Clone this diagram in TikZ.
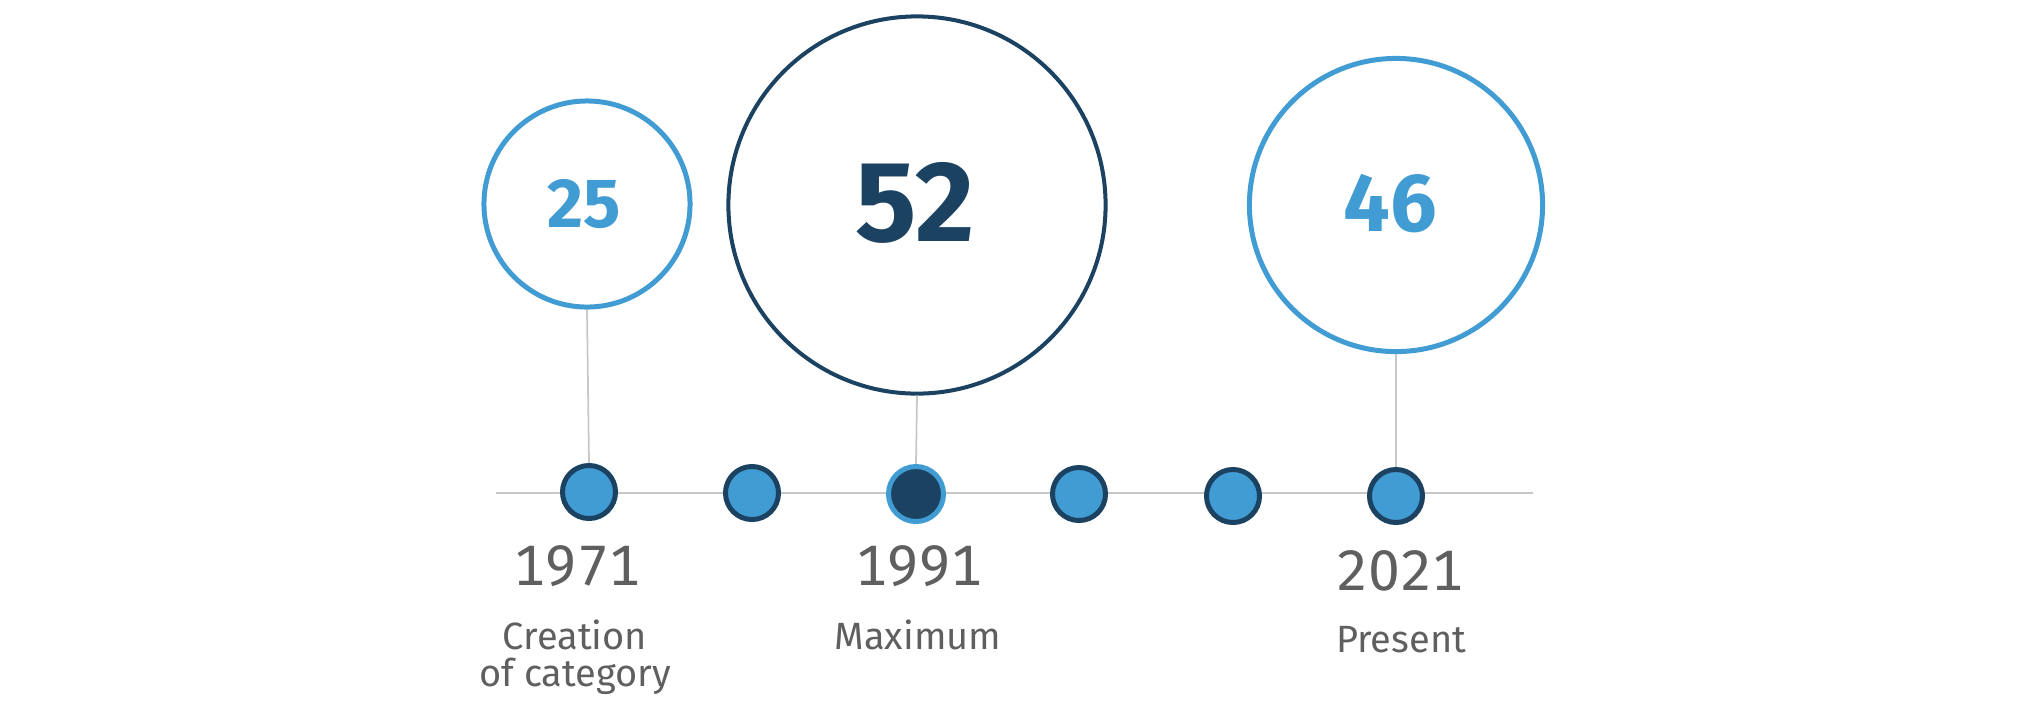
\documentclass[tikz,border=0pt]{standalone}
\usepackage{fontspec}
\setmainfont{Fira Sans}
\definecolor{lblue}{HTML}{419CD4}
\definecolor{navy}{HTML}{1C4262}
\definecolor{tgrey}{HTML}{5F5F5F}
\definecolor{lgrey}{HTML}{C8C8C8}
\begin{document}
\begin{tikzpicture}[x=0.01cm,y=-0.01cm,
  bigc/.style={circle,draw,inner sep=0pt,line width=1.42pt,fill=white},
  dot/.style={circle,draw=navy,fill=lblue,inner sep=0pt,minimum size=0.53cm,line width=1.42pt},
  maxdot/.style={circle,draw=lblue,fill=navy,inner sep=0pt,minimum size=0.55cm,line width=1.42pt},
  conn/.style={draw=lgrey,line width=0.5pt},
  year/.style={text=tgrey,anchor=base,font=\fontsize{16.2}{19}\selectfont\addfontfeatures{Numbers=Monospaced}},
  lab/.style={text=tgrey,anchor=base,align=center,font=\fontsize{10.8}{10.8}\selectfont},
]
\useasboundingbox (0,0) rectangle (2020,711);
% timeline
\coordinate (tl) at (496,493);
\coordinate (tr) at (1533,493);
\draw[draw=lgrey,line width=0.6pt] (tl) -- (tr);
% big circles
\node[bigc,draw=lblue,minimum size=2.06cm] (c25) at (587,204) {};
\node[bigc,draw=navy,line width=1.14pt,minimum size=3.77cm] (c52) at (917,205) {};
\node[bigc,draw=lblue,minimum size=2.93cm] (c46) at (1396,205) {};
\node[text=lblue,font=\bfseries\fontsize{19.8}{22}\selectfont] (n25) at (584,204) {25};
\node[text=navy,font=\bfseries\fontsize{32.6}{36}\selectfont] (n52) at (915,203) {52};
\node[text=lblue,font=\bfseries\fontsize{23.5}{26}\selectfont] (n46) at (1390,204) {46};
% dots
\node[dot] (d1) at (589,492) {};
\node[dot] (d2) at (752,493) {};
\node[maxdot] (d3) at (916,494) {};
\node[dot] (d4) at (1079,494) {};
\node[dot] (d5) at (1233,496) {};
\node[dot] (d6) at (1396,496) {};
% connectors
\draw[conn] (c25.south) -- (d1.north);
\draw[conn] (c52.south) -- (d3.north);
\draw[conn] (c46.south) -- (d6.north);
% labels
\node[year] (y1) at (577,585) {1971};
\node[year] (y2) at (919,585) {1991};
\node[year] (y3) at (1400,590) {2021};
\node[lab] (l1) at (575,649) {Creation};
\node[lab] (l1b) at (575,686) {of category};
\node[lab] (l2) at (918,649) {Maximum};
\node[lab] (l3) at (1401,652) {Present};
\end{tikzpicture}
\end{document}
